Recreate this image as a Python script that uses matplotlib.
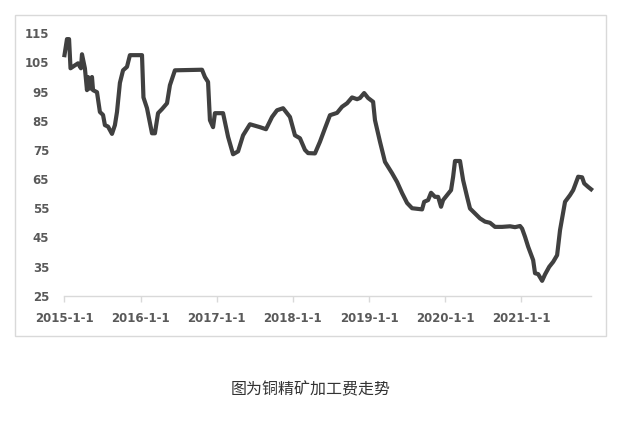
import numpy as np
import pandas as pd
import matplotlib
matplotlib.use("Agg")
import matplotlib.pyplot as plt
import matplotlib.dates as mdates
from matplotlib.patches import Rectangle

# copper concentrate TC
dates = [
    "2015-01-01", "2015-01-13", "2015-01-23", "2015-01-30", "2015-02-20", "2015-03-07",
    "2015-03-21", "2015-03-26", "2015-04-09", "2015-04-19", "2015-04-24", "2015-05-03",
    "2015-05-13", "2015-05-18", "2015-06-06", "2015-06-20", "2015-07-05", "2015-07-14",
    "2015-07-29", "2015-08-17", "2015-08-31", "2015-09-10", "2015-09-24", "2015-10-09",
    "2015-10-28", "2015-11-11", "2016-01-08", "2016-01-15", "2016-02-01", "2016-02-25",
    "2016-03-10", "2016-03-25", "2016-04-13", "2016-05-07", "2016-05-21", "2016-06-14",
    "2016-10-22", "2016-11-05", "2016-11-20", "2016-11-29", "2016-12-14", "2016-12-23",
    "2017-01-31", "2017-02-24", "2017-03-20", "2017-04-13", "2017-05-07", "2017-06-09",
    "2017-07-27", "2017-08-25", "2017-09-23", "2017-10-17", "2017-11-15", "2017-12-18",
    "2018-01-11", "2018-02-04", "2018-02-28", "2018-03-15", "2018-04-17", "2018-05-11",
    "2018-06-04", "2018-06-28", "2018-08-01", "2018-08-25", "2018-09-18", "2018-10-12",
    "2018-11-05", "2018-11-19", "2018-12-09", "2018-12-28", "2019-01-21", "2019-01-30",
    "2019-02-23", "2019-03-19", "2019-04-22", "2019-05-16", "2019-06-09", "2019-07-03",
    "2019-07-27", "2019-09-13", "2019-09-23", "2019-10-12", "2019-10-26", "2019-11-14",
    "2019-11-29", "2019-12-13", "2019-12-23", "2020-01-11", "2020-01-30", "2020-02-09",
    "2020-02-18", "2020-03-13", "2020-03-28", "2020-04-16", "2020-04-30", "2020-05-24",
    "2020-06-17", "2020-07-11", "2020-08-04", "2020-08-28", "2020-10-01", "2020-11-08",
    "2020-12-02", "2020-12-26", "2021-01-05", "2021-01-19", "2021-02-03", "2021-02-27",
    "2021-03-08", "2021-03-23", "2021-04-11", "2021-04-25", "2021-05-15", "2021-06-03",
    "2021-06-22", "2021-07-06", "2021-07-30", "2021-08-23", "2021-09-07", "2021-09-16",
    "2021-10-01", "2021-10-20", "2021-10-30", "2021-11-18", "2021-12-02",
]
tc = [
    107.5, 113, 113, 103, 104, 104.7,
    103, 107.8, 103, 95.5, 100, 96,
    100, 95.5, 94.8, 88, 87, 83.5,
    83, 80.5, 83.5, 88, 98, 102.3,
    103.5, 107.5, 107.5, 93, 89.3, 80.7,
    80.7, 87.6, 89, 91, 97.2, 102.3,
    102.5, 100, 98.3, 85.2, 82.8, 87.6,
    87.6, 79.5, 73.5, 74.5, 80, 83.8,
    82.8, 82.1, 86.3, 88.6, 89.3, 86.3,
    80, 79, 75, 73.9, 73.8, 77.8,
    82.4, 86.9, 87.7, 89.8, 91, 93,
    92.4, 92.8, 94.5, 92.8, 91.5, 85.2,
    77.8, 70.9, 67, 64, 60.2, 56.8,
    55, 54.6, 57.2, 57.8, 60.3, 58.9,
    58.9, 55.5, 57.8, 59.5, 61.2, 65.8,
    71.2, 71.2, 64.6, 58.9, 54.9, 53.2,
    51.5, 50.4, 50, 48.6, 48.6, 48.8,
    48.5, 48.9, 48, 45.2, 41.8, 37.2,
    32.7, 32.4, 30.1, 32.3, 34.9, 36.6,
    38.9, 47.5, 57.2, 59.5, 61.2, 62.9,
    65.8, 65.6, 63.5, 62.3, 61.5,
]
tick_dates = ["2015-01-01", "2016-01-01", "2017-01-01", "2018-01-01",
              "2019-01-01", "2020-01-01", "2021-01-01"]
tick_labels = ["2015-1-1", "2016-1-1", "2017-1-1", "2018-1-1",
               "2019-1-1", "2020-1-1", "2021-1-1"]
y_ticks = [25, 35, 45, 55, 65, 75, 85, 95, 105, 115]
caption = "图为铜精矿加工费走势"

x = pd.to_datetime(dates)

fig = plt.figure(figsize=(6.17, 4.34), dpi=100)
fig.patch.set_facecolor("white")

# light frame round the chart
fig.patches.append(Rectangle((0.0251, 0.2258), 0.957, 0.7385, transform=fig.transFigure,
                             fill=False, edgecolor="#d9d9d9", linewidth=1.0))

ax = fig.add_axes([0.1045, 0.3187, 0.8535, 0.6046])
ax.plot(x, tc, color="#404040", linewidth=3.0, solid_joinstyle="round", clip_on=False)

ax.set_xlim(pd.Timestamp("2015-01-01"), pd.Timestamp("2021-12-02"))
ax.set_ylim(25, 115)
ax.set_yticks(y_ticks)
ax.set_xticks(pd.to_datetime(tick_dates))
ax.set_xticklabels(tick_labels)

for s in ["top", "right", "left"]:
    ax.spines[s].set_visible(False)
ax.spines["bottom"].set_color("#d9d9d9")
ax.spines["bottom"].set_linewidth(1.0)

ax.tick_params(axis="y", length=0, pad=11, labelsize=8.5, labelcolor="#595959")
ax.tick_params(axis="x", length=4.5, width=1.0, color="#d9d9d9", pad=7,
               labelsize=8.5, labelcolor="#595959")
for lab in ax.get_xticklabels() + ax.get_yticklabels():
    lab.set_fontweight("bold")

fig.text(0.504, 0.101, caption, ha="center", va="center", fontsize=11.5,
         color="#333333", family=["Noto Sans CJK SC", "DejaVu Sans"])

fig.savefig("out.png", dpi=100)
